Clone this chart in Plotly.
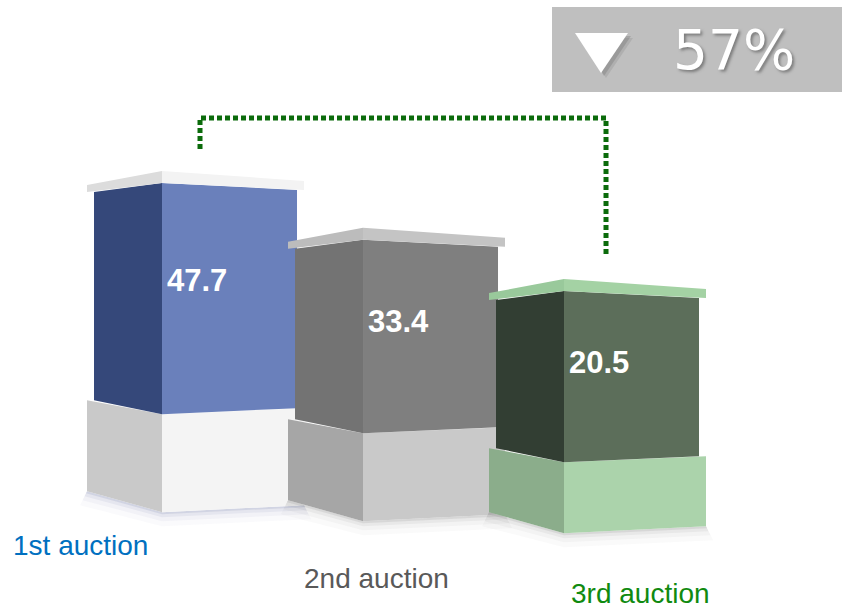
import plotly.graph_objects as go

# ---- data ----
categories = ["1st auction", "2nd auction", "3rd auction"]
values = [47.7, 33.4, 20.5]

# ---- styling ----
label_colors = ["#0070c0", "#595959", "#108a10"]
cap_colors = [("#dcdcdc", "#f3f3f3"), ("#bcbcbc", "#c4c4c4"), ("#99c99b", "#a4d2a4")]
body_colors = [("#35487a", "#6a80bb"), ("#737373", "#7f7f7f"), ("#323e33", "#5c6e5a")]
base_colors = [("#c9c9c9", "#f4f4f4"), ("#a6a6a6", "#c9c9c9"), ("#8bad8b", "#abd3ab")]
shadow_colors = ["#5a6b9e", "#6e6e6e", "#6e6e6e"]

W, H = 842, 608
XRANGE = [-0.806, 3.383]
YRANGE = [-59.2, 93.7]
SX = W / (XRANGE[1] - XRANGE[0])   # px per x unit
SY = H / (YRANGE[1] - YRANGE[0])   # px per value unit


def dx(px):
    return px / SX


def dy(px):
    return px / SY


FOOTING = -35.1            # axis level of the front pillar's footing
DEPTH_PX = [0, 9, 21]      # pillars further back sit a little lower
BASE_PX = [98, 88, 71]     # pedestal heights
CAP_PX = 12                # thickness of the top slab
BODY_W = (68, 135)         # left / right face widths of the column
SLAB_W = (75, 142)         # left / right face widths of cap and pedestal
# outer corners of an edge relative to the front corner (+ = lower on screen)
PROFILE = {
    "cap_top": (14, 10),
    "body_top": (9, 7),
    "body_bottom": (-14, -6),
    "ground": (-21, -7),
}
LABEL_DX = [-82, 13, 76]   # category label offsets from the front edge
LABEL_DY = [33, 57, 60]    # category label offsets below the footing
VALUE_DX = 35
VALUE_FRAC = 0.42


def edge(xc, y, widths, prof):
    wl, wr = widths
    pl, pr = prof
    return [(xc - dx(wl), y - dy(pl)), (xc, y), (xc + dx(wr), y - dy(pr))]


def path(points):
    return "M " + " L ".join(f"{x:.5f},{y:.5f}" for x, y in points) + " Z"


def poly(points, color, opacity=1.0):
    return dict(type="path", xref="x", yref="y", path=path(points),
                fillcolor=color, opacity=opacity, line=dict(width=0), layer="above")


def faces(top, bottom, colors):
    return [
        poly([top[0], top[1], bottom[1], bottom[0]], colors[0]),
        poly([top[1], top[2], bottom[2], bottom[1]], colors[1]),
    ]


shapes = []
annotations = []

for i, (cat, v) in enumerate(zip(categories, values)):
    xc = i
    ground = FOOTING - dy(DEPTH_PX[i])
    base_top = ground + dy(BASE_PX[i])
    top = v
    cap_top = top + dy(CAP_PX)

    g = edge(xc, ground, SLAB_W, PROFILE["ground"])
    # soft shadow under the pedestal
    for off, op in [(2, 0.14), (5, 0.08), (9, 0.05), (14, 0.03)]:
        low = [(x + (-dx(off / 2) if k == 0 else dx(off / 2) if k == 2 else 0), y - dy(off))
               for k, (x, y) in enumerate(g)]
        shapes.append(poly(g + low[::-1], shadow_colors[i], op))

    # pedestal
    shapes += faces(edge(xc, base_top, SLAB_W, PROFILE["body_bottom"]), g, base_colors[i])
    # column
    shapes += faces(edge(xc, top, BODY_W, PROFILE["body_top"]),
                    edge(xc, base_top, BODY_W, PROFILE["body_bottom"]), body_colors[i])
    # top slab
    shapes += faces(edge(xc, cap_top, SLAB_W, PROFILE["cap_top"]),
                    edge(xc, top, SLAB_W, PROFILE["body_top"]), cap_colors[i])

    annotations.append(dict(
        x=xc + dx(VALUE_DX), y=top - VALUE_FRAC * (top - base_top), xref="x", yref="y",
        xanchor="center", yanchor="middle",
        text=f"<b>{v}</b>", showarrow=False,
        font=dict(family="Arial, Liberation Sans", size=31, color="white"),
    ))
    annotations.append(dict(
        x=xc + dx(LABEL_DX[i]), y=ground - dy(LABEL_DY[i]), xref="x", yref="y",
        xanchor="center", yanchor="middle", borderpad=0,
        text=cat, showarrow=False,
        font=dict(family="Arial, Liberation Sans", size=28, color=label_colors[i]),
    ))

# dotted bracket linking first and last auction
top_y = max(values) + dy(CAP_PX) + dy(53)
bracket = go.Scatter(
    x=[0 + dx(38), 0 + dx(38), 2 + dx(42), 2 + dx(42)],
    y=[values[0] + dy(CAP_PX) + dy(22), top_y, top_y, values[2] + dy(CAP_PX) + dy(22)],
    mode="lines", line=dict(color="#0b6b0b", width=5, dash="5px,3px"),
    hoverinfo="skip",
)

# decline badge
decline = round(100 * (values[0] - values[-1]) / values[0])


def px_paper(x, y):
    return x / W, 1 - y / H


bx0, by0 = px_paper(552, 92)
bx1, by1 = px_paper(842, 7)
shapes.append(dict(type="rect", xref="paper", yref="paper", x0=bx0, y0=by0, x1=bx1, y1=by1,
                   fillcolor="#bfbfbf", line=dict(width=0), layer="above"))


def tri(ox, oy):
    pts = [px_paper(575 + ox, 33 + oy), px_paper(628 + ox, 33 + oy), px_paper(601 + ox, 73 + oy)]
    return "M " + " L ".join(f"{x:.5f},{y:.5f}" for x, y in pts) + " Z"


for (ox, oy, op) in [(5, 5, 0.18), (3, 3, 0.3)]:
    shapes.append(dict(type="path", xref="paper", yref="paper", path=tri(ox, oy),
                       fillcolor="#6a6a6a", opacity=op, line=dict(width=0), layer="above"))
shapes.append(dict(type="path", xref="paper", yref="paper", path=tri(0, 0),
                   fillcolor="white", line=dict(width=0), layer="above"))

tx, ty = px_paper(734, 50)
annotations.append(dict(x=tx, y=ty, xref="paper", yref="paper", text=f"{decline}%",
                        xanchor="center", yanchor="middle", showarrow=False,
                        font=dict(family="DejaVu Sans", size=55, color="white",
                                  shadow="2px 2px 3px #7c7c7c")))

fig = go.Figure(bracket)
fig.update_layout(
    width=W, height=H, margin=dict(l=0, r=0, t=0, b=0),
    paper_bgcolor="white", plot_bgcolor="white", showlegend=False,
    xaxis=dict(range=XRANGE, visible=False, fixedrange=True),
    yaxis=dict(range=YRANGE, visible=False, fixedrange=True),
    shapes=shapes, annotations=annotations,
)
fig.write_html("out.html")
